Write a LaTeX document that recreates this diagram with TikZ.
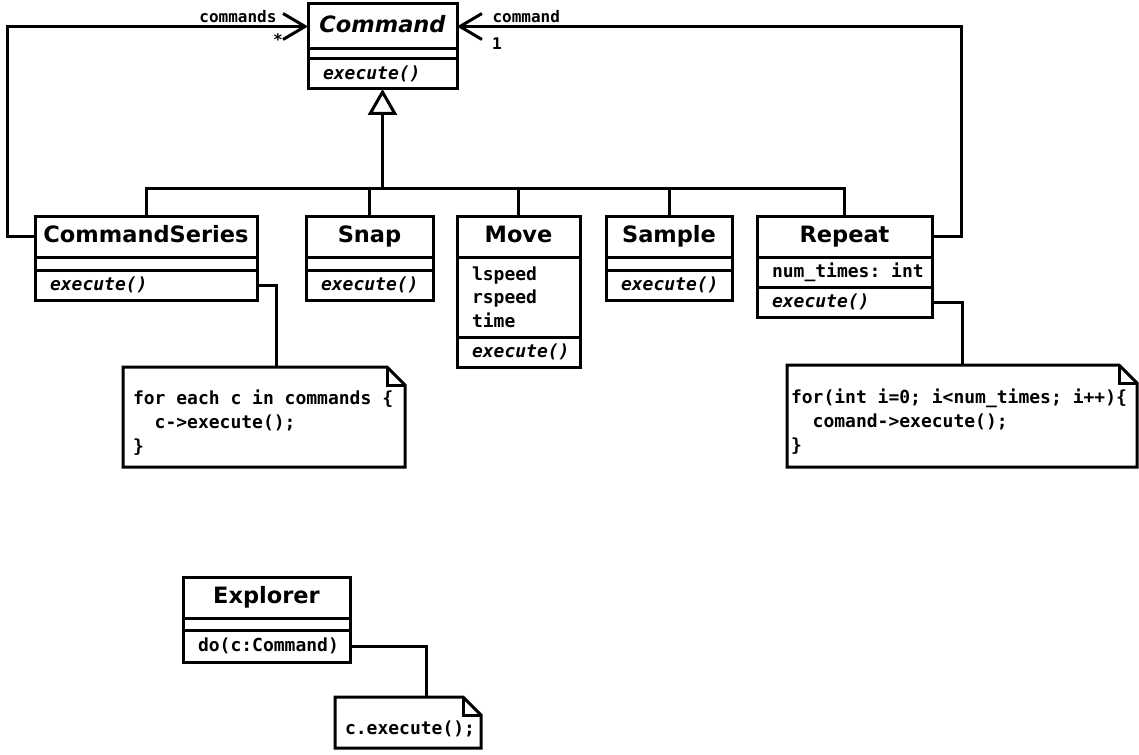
\documentclass[tikz,border=0pt]{standalone}
\usepackage{fontspec}
\setmainfont{DejaVu Sans}
\setmonofont{DejaVu Sans Mono}
\usepackage{tikz}
\usetikzlibrary{arrows.meta,positioning,calc}

\begin{document}
\begin{tikzpicture}[
  x=1pt, y=-1pt,
  line width=3pt,
  cls/.style={draw,outer sep=0pt,inner sep=2pt,minimum height=41pt,minimum width=#1,text height=16.5pt,text depth=5pt,font=\fontsize{22.5}{26}\selectfont\bfseries},
  gap/.style={draw,outer sep=0pt,inner sep=0pt,minimum height=13pt,minimum width=#1},
  attrs/.style={draw,outer sep=0pt,inner xsep=15pt,inner ysep=0pt,text width=#1,align=left,font=\fontsize{18}{23.5}\selectfont\ttfamily\bfseries,execute at begin node=\spaceskip 10.84pt\relax},
  ops/.style={attrs=#1,minimum height=30pt,font=\fontsize{18}{22}\selectfont\ttfamily\bfseries\itshape},
  note/.style={outer sep=0pt,inner xsep=10pt,inner ysep=0pt,text width=#1,text height=26pt,align=left,anchor=north west,font=\fontsize{18}{24}\selectfont\ttfamily\bfseries,execute at begin node=\spaceskip 10.84pt\relax},
  lbl/.style={inner sep=1pt,font=\fontsize{16}{18}\selectfont\ttfamily\bfseries},
  inh/.style={-{Triangle[open,length=26pt,width=29pt]}},
  assoc/.style={-{Straight Barb[length=22pt,width=26pt]}}
]
\useasboundingbox (0,0) rectangle (1139,754);

% abstract command
\node[cls=149pt,minimum height=45pt] (cmd) at (382.5,26.5) {\itshape Command};
\node[gap=149pt,minimum height=10pt,below=0pt of cmd] (cmd-a) {};
\node[ops=119pt,below=0pt of cmd-a] (cmd-m) {execute()};

% concrete commands
\node[cls=222pt] (cs) at (146,236.5) {CommandSeries};
\node[gap=222pt,below=0pt of cs] (cs-a) {};
\node[ops=192pt,below=0pt of cs-a] (cs-m) {execute()};

\node[cls=127pt] (snap) at (369.5,236.5) {Snap};
\node[gap=127pt,below=0pt of snap] (snap-a) {};
\node[ops=97pt,below=0pt of snap-a] (snap-m) {execute()};

\node[cls=123pt] (move) at (518.5,236.5) {Move};
\node[attrs=93pt,minimum height=80pt,below=0pt of move] (move-a) {lspeed\\rspeed\\time};
\node[ops=93pt,below=0pt of move-a] (move-m) {execute()};

\node[cls=126pt] (smp) at (669,236.5) {Sample};
\node[gap=126pt,below=0pt of smp] (smp-a) {};
\node[ops=96pt,below=0pt of smp-a] (smp-m) {execute()};

\node[cls=175pt] (rpt) at (844.5,236.5) {Repeat};
\node[attrs=145pt,minimum height=30pt,below=0pt of rpt] (rpt-a) {num\_times:~int};
\node[ops=145pt,below=0pt of rpt-a] (rpt-m) {execute()};

% client
\node[cls=167pt] (expl) at (266.5,597.5) {Explorer};
\node[gap=167pt,minimum height=12pt,below=0pt of expl] (expl-a) {};
\node[ops=137pt,minimum height=32pt,font=\fontsize{18}{22}\selectfont\ttfamily\bfseries,below=0pt of expl-a] (expl-m) {do(c:Command)};

% notes
\node[note=262pt,minimum height=100pt] (cs-note) at (123,367) {for each c in commands \{\\\phantom{xx}c->execute();\\\}};
\node[note=342pt,inner xsep=4pt,minimum height=102pt] (rpt-note) at (787,365) {for(int i=0; i<num\_times; i++)\{\\\phantom{xx}comand->execute();\\\}};
\node[note=126pt,minimum height=51pt] (expl-note) at (335,697) {c.execute();};
\foreach \n in {cs-note,rpt-note,expl-note}{
  \draw (\n.north west) -- ([xshift=-18pt]\n.north east) -- ([yshift=-18pt]\n.north east) -- (\n.south east) -- (\n.south west) -- cycle;
  \draw ([xshift=-18pt]\n.north east) |- ([yshift=-18pt]\n.north east);
}

% inheritance
\coordinate (tree) at (382.5,188);
\draw[inh] (tree) -- (cmd-m.south);
\foreach \c in {cs,snap,move,smp,rpt}
  \draw (tree) -| (\c.north);

% associations
\draw[assoc] (cs.west) -- ++(-28,0) |- (cmd.west);
\draw[assoc] (rpt.east) -- ++(29,0) |- (cmd.east);
\node[lbl,anchor=south east] (cs-role) at (279,25) {commands};
\node[lbl] (cs-mult) at (278,40) {*};
\node[lbl,anchor=south west] (rpt-role) at (490,25) {command};
\node[lbl] (rpt-mult) at (497,44) {1};

% note links
\draw (cs-m.east) -- ++(19,0) coordinate (k1) -- (k1 |- cs-note.north);
\draw (rpt-m.east) -- ++(30,0) coordinate (k2) -- (k2 |- rpt-note.north);
\draw (expl-m.east) -- ++(76,0) coordinate (k3) -- (k3 |- expl-note.north);
\end{tikzpicture}
\end{document}
